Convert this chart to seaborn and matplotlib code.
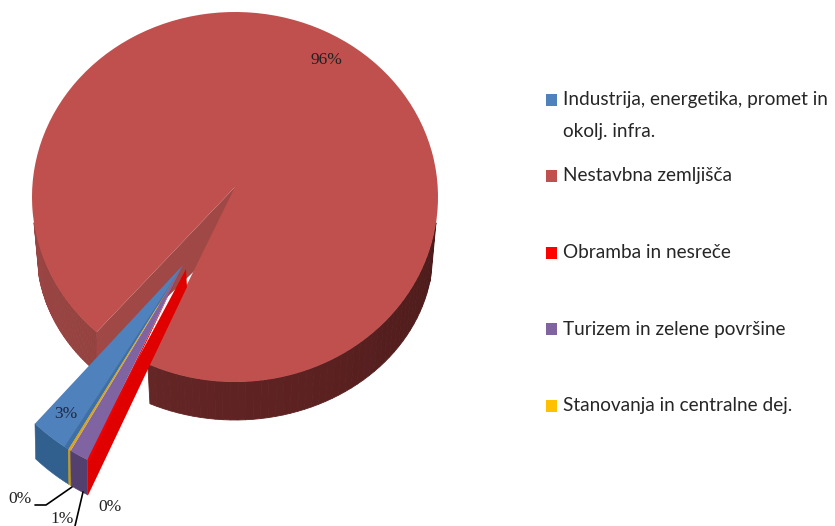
import numpy as np
import seaborn as sns
import matplotlib.pyplot as plt
from matplotlib.colors import to_rgb
from matplotlib.transforms import Affine2D, Transform

kategorije = ["Industrija, energetika, promet in\nokolj. infra.", "Nestavbna zemljišča",
              "Obramba in nesreče", "Turizem in zelene površine", "Stanovanja in centralne dej."]
deleži = [3.1, 95.5, 0.2, 1.4, 0.2]
oznake = ["3%", "96%", "0%", "1%", "0%"]
barve = ["#4f81bd", "#c0504d", "#f00000", "#8064a2", "#d9a41c"]
barve_sten = ["#31608f", None, "#e00000", "#54406f", "#c09a20"]
barve_legende = ["#4f81bd", "#c0504d", "#ff0000", "#8064a2", "#ffc000"]

sns.set_theme(style="white")
plt.rcParams["font.family"] = ["Lato", "DejaVu Sans"]


class Nagib(Transform):
    # squash the disc, and lift the tip of the wedge a bit (fake perspective)
    input_dims = 2
    output_dims = 2

    def __init__(self, sy, dvig):
        super().__init__()
        self.sy = sy
        self.dvig = dvig

    def transform_non_affine(self, xy):
        xy = np.array(xy, dtype=float)
        vrh = np.hypot(xy[:, 0], xy[:, 1]) < 1
        xy[:, 1] = xy[:, 1] * self.sy + self.dvig * vrh
        return xy


def tocka(kot, rx, ry, cx, cy):
    kot = np.radians(kot)
    return cx + rx * np.cos(kot), cy - ry * np.sin(kot)


fig = plt.figure(figsize=(8.35, 5.26), dpi=100)
ax = fig.add_axes([0, 0, 1, 1])

R = 203
RY = 185
CX, CY = 235, 197
DX, DY = 183, 265
R2 = 217
wedges, _ = ax.pie(deleži, colors=barve, radius=R, startangle=238.1, counterclock=False,
                   wedgeprops=dict(linewidth=0))
ax.set_aspect("auto")
ax.set_xlim(0, 835)
ax.set_ylim(526, 0)

glavni = wedges[1]
glavni.set_transform(Nagib(RY / R, 10) + Affine2D().scale(1, -1).translate(CX, CY) + ax.transData)
glavni.set_zorder(3)
for i in [0, 2, 3, 4]:
    wedges[i].set_transform(Affine2D().scale(R2 / R, -R2 / R).translate(DX, DY) + ax.transData)
    wedges[i].set_zorder(6)

# outer wall of the big slice, shading read along the rim
koti_s = [180, 228, 245, 300, 360]
barve_s = ["#9c4644", "#944240", "#642525", "#5a2020", "#4a1a1a"]
rgb_s = np.array([to_rgb(b) for b in barve_s])
zgoraj = (R, RY, CX, CY)
spodaj = (198, 168, CX, 252)
for od, do in [(188, glavni.theta2), (glavni.theta1 + 360, 352)]:
    koti = np.linspace(od, do, 50)
    for a, b in zip(koti[:-1], koti[1:]):
        p = [tocka(a, *zgoraj), tocka(b, *zgoraj), tocka(b, *spodaj), tocka(a, *spodaj)]
        b_rgb = [np.interp(a, koti_s, rgb_s[:, k]) for k in range(3)]
        ax.fill(*zip(*p), color=b_rgb, lw=0.6, zorder=1)

# inner face of the gap
p1 = tocka(glavni.theta2, *zgoraj)
p2 = tocka(glavni.theta2, *spodaj)
ax.fill([CX, p1[0], p1[0], CX], [CY - 10, p1[1], p2[1] - 10, CY + 35], color="#a04846", lw=0, zorder=2)

# walls of the pulled out slices
for i in [0, 4, 3]:
    w = wedges[i]
    koti = np.linspace(w.theta1, w.theta2, 8)
    gor = [tocka(k, R2, R2, DX, DY) for k in koti]
    dol = [tocka(k, R2 - 1, R2 - 1, DX, DY + 36) for k in koti]
    ax.fill(*zip(*(gor + dol[::-1])), color=barve_sten[i], lw=0.4, zorder=5)

# red side face looks at the viewer, its far end sits lower
w = wedges[2]
r1 = tocka(w.theta1, R2, R2, DX, DY)
r2 = tocka(w.theta1, R2 - 1, R2 - 1, DX, DY + 37)
ax.fill([DX + 3, r1[0], r2[0], DX + 4], [DY + 4, r1[1] - 6, r2[1], DY + 22],
        color=barve_sten[2], lw=0, zorder=5.5)

# darker strip on the blue top next to the yellow one
b = wedges[0]
t1 = tocka(b.theta2, R2, R2, DX, DY)
t2 = tocka(b.theta2 - 1.2, R2, R2, DX, DY)
ax.fill([DX, t1[0], t2[0]], [DY, t1[1], t2[1]], color="#3f6fa3", lw=0, zorder=7)

# labels
serif = dict(family="Liberation Serif", fontsize=12.5, ha="center", va="center", zorder=8)
ax.text(66, 414, oznake[0], color="#1f2a44", **serif)
ax.text(326, 60, oznake[1], color="#222222", **serif)
ax.text(110, 507, oznake[2], color="#222222", **serif)
ax.text(62, 519, oznake[3], color="#222222", **serif)
ax.text(20, 499, oznake[4], color="#222222", **serif)
ax.plot([35, 46, 72], [505, 505, 487], color="black", lw=1.2, zorder=8)
ax.plot([83, 75], [492, 526], color="black", lw=1.2, zorder=8)

# legend
leg_y = [100, 176, 253, 329, 406]
for ime, y, b in zip(kategorije, leg_y, barve_legende):
    ax.fill([546, 557, 557, 546], [y - 6, y - 6, y + 6, y + 6], color=b, lw=0, zorder=8)
    vrstice = ime.split("\n")
    ax.text(563, y, vrstice[0], fontsize=13.7, color="#262626", va="center", ha="left", zorder=8)
    if len(vrstice) > 1:
        ax.text(563, y + 31, vrstice[1], fontsize=13.7, color="#262626", va="center", ha="left", zorder=8)

fig.savefig("out.png", dpi=100, facecolor="white")
